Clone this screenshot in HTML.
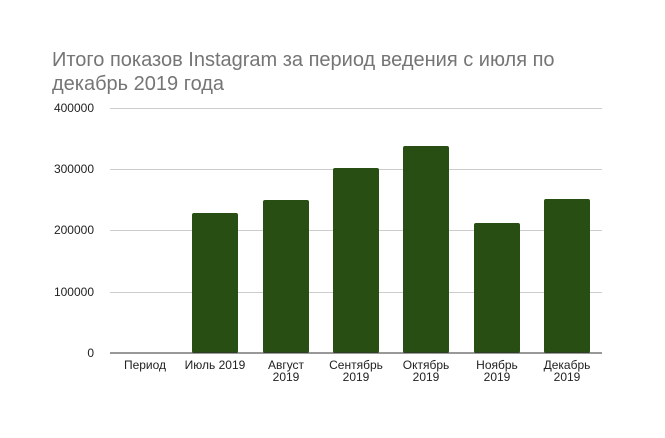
<!DOCTYPE html>
<html><head><meta charset="utf-8"><style>
body{margin:0;background:#fff;}
svg text{font-family:"Liberation Sans",Arial,sans-serif;}
</style></head><body>
<svg width="665" height="433" xmlns="http://www.w3.org/2000/svg">
<rect width="665" height="433" fill="#fff"/>
<text x="52" y="66" font-size="20" fill="#757575">Итого показов Instagram за период ведения с июля по</text>
<text x="52" y="90" font-size="20" fill="#757575">декабрь 2019 года</text>
<g stroke="#cccccc" stroke-width="1">
<line x1="110" x2="602" y1="108.5" y2="108.5"/>
<line x1="110" x2="602" y1="169.5" y2="169.5"/>
<line x1="110" x2="602" y1="230.5" y2="230.5"/>
<line x1="110" x2="602" y1="292.5" y2="292.5"/>
</g>
<g font-size="12" fill="#222" text-anchor="end">
<text x="94" y="112">400000</text>
<text x="94" y="173">300000</text>
<text x="94" y="234">200000</text>
<text x="94" y="296">100000</text>
<text x="94" y="357">0</text>
</g>
<g fill="#294e13">
<rect x="192" y="213" width="46" height="140" rx="2"/>
<rect x="263" y="200" width="46" height="153" rx="2"/>
<rect x="333" y="168" width="46" height="185" rx="2"/>
<rect x="403" y="146" width="46" height="207" rx="2"/>
<rect x="474" y="223" width="46" height="130" rx="2"/>
<rect x="544" y="199" width="46" height="154" rx="2"/>
</g>
<line x1="110" x2="602" y1="353" y2="353" stroke="#333" stroke-width="1"/>
<g font-size="12" fill="#222" text-anchor="middle">
<text x="145" y="369">Период</text>
<text x="215" y="369">Июль 2019</text>
<text x="286" y="369">Август</text><text x="286" y="381">2019</text>
<text x="356" y="369">Сентябрь</text><text x="356" y="381">2019</text>
<text x="426" y="369">Октябрь</text><text x="426" y="381">2019</text>
<text x="497" y="369">Ноябрь</text><text x="497" y="381">2019</text>
<text x="567" y="369">Декабрь</text><text x="567" y="381">2019</text>
</g>
</svg>
</body></html>
